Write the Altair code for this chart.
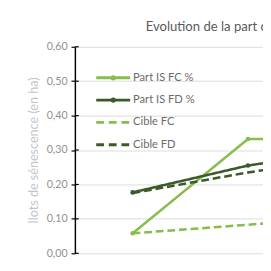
import altair as alt
import pandas as pd

categories = ["P1", "P2", "P3"]
series_names = ["Part IS FC %", "Part IS FD %", "Cible FC", "Cible FD"]
part_is_fc = [0.058, 0.332, 0.332]
part_is_fd = [0.177, 0.255, 0.305]
cible_fc = [0.058, 0.083, 0.108]
cible_fd = [0.175, 0.235, 0.285]
series_colors = ["#86bd4c", "#3b5a27", "#86bd4c", "#3b5a27"]
series_dashed = [False, False, True, True]
y_ticks = [0.0, 0.1, 0.2, 0.3, 0.4, 0.5, 0.6]
title_text = "Evolution de la part des îlots de sénescence"
y_title = "Ilots de sénescence (en ha)"

FONT = "Lato"
rows = []
for name, vals in zip(series_names, [part_is_fc, part_is_fd, cible_fc, cible_fd]):
    for i, v in enumerate(vals):
        rows.append({"series": name, "cat": categories[i], "idx": i, "value": v})
df = pd.DataFrame(rows)

xscale = alt.Scale(domain=[-0.5, -0.5 + 194 / 119], nice=False, zero=False)
yscale = alt.Scale(domain=[0, 0.6], nice=False, zero=True)
cscale = alt.Scale(domain=series_names, range=series_colors)
dscale = alt.Scale(domain=series_names, range=[[1, 0], [1, 0], [8, 4], [8, 4]])

base = alt.Chart(df)

lines = base.mark_line(strokeWidth=2.6, clip=True).encode(
    x=alt.X("idx:Q", scale=xscale,
            axis=alt.Axis(values=[0.5], labels=False, title=None, grid=False,
                          domainColor="#d0d0d0", tickColor="#b0b0b0", tickSize=5,
                          domainWidth=1.2)),
    y=alt.Y("value:Q", scale=yscale,
            axis=alt.Axis(values=y_ticks, title=y_title, titleColor="#c6c6c6",
                          titleFont=FONT, titleFontSize=13, titleFontWeight="normal",
                          titlePadding=6, labelFont=FONT, labelFontSize=11,
                          labelColor="#929292",
                          labelExpr="replace(format(datum.value, '.2f'), '.', ',')",
                          domainColor="#000000", domainWidth=1.5, tickColor="#000000",
                          tickSize=4, tickWidth=1.2, gridColor="#dcdcdc", labelPadding=4)),
    color=alt.Color("series:N", scale=cscale, legend=None),
    strokeDash=alt.StrokeDash("series:N", scale=dscale, legend=None),
    detail="series:N",
)

points = base.transform_filter(
    alt.FieldOneOfPredicate(field="series", oneOf=series_names[:2])
).mark_circle(size=22, opacity=1, clip=True).encode(
    x=alt.X("idx:Q", scale=xscale, axis=None),
    y=alt.Y("value:Q", scale=yscale, axis=None),
    color=alt.Color("series:N", scale=cscale, legend=None),
)

ticks_in = alt.Chart(pd.DataFrame({"v": y_ticks})).mark_rule(color="#000000", strokeWidth=1.2).encode(
    y=alt.Y("v:Q", scale=yscale, axis=None),
    x=alt.value(0), x2=alt.value(4),
)

leg = pd.DataFrame({
    "series": series_names,
    "row": list(range(len(series_names))),
    "dashed": series_dashed,
})
lscale = alt.Scale(domain=[0, 3], range=[32, 101])
leg_solid = alt.Chart(leg).transform_filter("!datum.dashed").mark_rule(strokeWidth=3).encode(
    x=alt.value(22), x2=alt.value(57),
    y=alt.Y("row:Q", scale=lscale, axis=None),
    color=alt.Color("series:N", scale=cscale, legend=None),
)
leg_dash = alt.Chart(leg).transform_filter("datum.dashed").mark_rule(strokeWidth=3, strokeDash=[8, 5]).encode(
    x=alt.value(22), x2=alt.value(57),
    y=alt.Y("row:Q", scale=lscale, axis=None),
    color=alt.Color("series:N", scale=cscale, legend=None),
)
leg_dot = alt.Chart(leg).transform_filter("!datum.dashed").mark_circle(size=28, opacity=1).encode(
    x=alt.value(39.5),
    y=alt.Y("row:Q", scale=lscale, axis=None),
    color=alt.Color("series:N", scale=cscale, legend=None),
)
leg_text = alt.Chart(leg).mark_text(align="left", baseline="middle", font=FONT,
                                     fontSize=11.5, color="#6b6b6b").encode(
    x=alt.value(60),
    y=alt.Y("row:Q", scale=lscale, axis=None),
    text="series:N",
)

title = alt.Chart(pd.DataFrame({"t": [title_text]})).mark_text(
    align="left", baseline="middle", font=FONT, fontSize=13.5, color="#595959"
).encode(x=alt.value(73), y=alt.value(-20), text="t:N")

chart = alt.layer(lines, points, ticks_in, leg_solid, leg_dash, leg_dot, leg_text, title).resolve_scale(
    y="independent"
).properties(
    width=194, height=213,
    autosize=alt.AutoSizeParams(type="none"),
    padding={"left": 69, "top": 36, "right": 0, "bottom": 6},
    background="#ffffff",
).configure_view(stroke=None)

chart.save("out.html", embed_options={"renderer": "svg", "actions": False})
